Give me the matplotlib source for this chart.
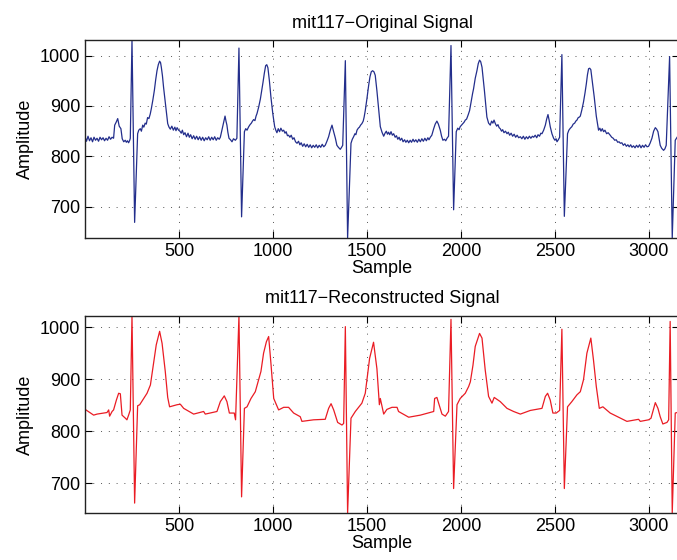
import numpy as np
import matplotlib
matplotlib.use("Agg")
import matplotlib.pyplot as plt

plt.rcParams['font.family'] = ['Liberation Sans', 'DejaVu Sans']
plt.rcParams['font.size'] = 13

# original signal, points (sample numbers)
orig_x = [1, 8, 16, 24, 32, 40, 48, 56, 64, 72, 80, 88, 96, 104, 112, 120, 128, 136, 144, 152,
          158, 166, 174, 182, 191, 198, 206, 214, 220, 226, 232, 238, 241,
          250, 264, 280,
          286, 294, 300, 307, 313, 320, 326, 333, 340, 347, 353, 361, 369, 376, 383, 390, 397,
          402, 406, 412, 418, 429, 440, 447, 454, 462, 470, 478, 484, 490, 498, 505, 512, 518,
          525, 532, 540, 548, 555, 562, 570, 578, 586, 594, 602, 610, 618, 626, 634, 642, 650,
          658, 666, 674, 682, 690, 698, 706, 714, 720,
          727, 734, 740, 745, 750, 755, 760, 766, 774, 782, 790, 800, 808,
          819, 833, 848,
          855, 862, 871, 878, 885, 891, 897, 904, 910, 915, 924, 933, 940, 947, 954, 961, 967,
          973, 981, 989, 999, 1009, 1015, 1021, 1028, 1035, 1042, 1050, 1057, 1064, 1070, 1077,
          1083, 1090, 1097, 1105, 1112, 1120, 1128, 1136, 1143, 1150, 1158, 1166, 1174, 1182,
          1190, 1198, 1206, 1214, 1222, 1230, 1238, 1246, 1254, 1262, 1270, 1278,
          1287, 1296, 1305, 1314, 1322, 1332, 1340, 1348, 1358, 1365, 1371,
          1385, 1397, 1415,
          1422, 1429, 1436, 1441, 1447, 1454, 1460, 1466, 1473, 1480, 1485, 1491, 1500, 1509,
          1516, 1523, 1530, 1537, 1544, 1553, 1562, 1571, 1580, 1589, 1596, 1603, 1609, 1615,
          1621, 1628, 1635, 1642, 1650, 1657, 1664, 1671, 1677, 1685, 1692, 1700, 1707, 1715,
          1722, 1730, 1737, 1745, 1752, 1760, 1768, 1776, 1784, 1792, 1800, 1808, 1816, 1824,
          1830, 1837, 1845,
          1855, 1863, 1872, 1880, 1890, 1897, 1904, 1912, 1919, 1926, 1934,
          1947, 1961, 1975,
          1983, 1990, 1996, 2003, 2010, 2017, 2023, 2030, 2038, 2046, 2055, 2062, 2067, 2076,
          2085, 2092, 2099, 2105, 2112, 2125, 2138, 2147, 2156, 2163, 2170, 2176, 2183, 2190,
          2197, 2203, 2209, 2216, 2222, 2229, 2237, 2245, 2252, 2259, 2267, 2275, 2283, 2291,
          2299, 2307, 2316, 2324, 2332, 2340, 2348, 2356, 2364, 2372, 2380, 2387, 2395, 2403,
          2410, 2418, 2425, 2431,
          2440, 2449, 2456, 2463, 2469, 2475, 2484, 2493, 2500, 2506, 2511, 2518, 2525,
          2537, 2550, 2567,
          2574, 2582, 2590, 2597, 2605, 2611, 2617, 2624, 2630, 2635, 2643, 2652, 2660, 2667,
          2673, 2679, 2685, 2691, 2700, 2709, 2720, 2732, 2739, 2745, 2752, 2759, 2766, 2775,
          2783, 2794, 2802, 2810, 2818, 2826, 2834, 2841, 2848, 2856, 2864, 2872, 2880, 2888,
          2895, 2903, 2910, 2918, 2926, 2934, 2942, 2950, 2958, 2966, 2974, 2982, 2990, 2998,
          3006,
          3016, 3025, 3034, 3041, 3048, 3054, 3060, 3068, 3078, 3085, 3092,
          3110, 3124, 3140, 3150]
# amplitudes matching orig_x
orig_y = [838, 830, 840, 831, 837, 829, 838, 832, 836, 830, 838, 833, 837, 831, 836, 832, 839, 834, 838, 836,
          862, 868, 875, 860, 855, 835, 829, 832, 828, 831, 827, 832, 836,
          1031, 669, 845,
          852, 855, 850, 862, 858, 866, 864, 877, 875, 884, 895, 912, 931, 952, 970, 982, 989,
          986, 977, 960, 937, 900, 865, 858, 854, 860, 852, 858, 851, 857, 852, 850, 846, 852,
          843, 847, 839, 846, 838, 843, 835, 841, 834, 840, 833, 839, 832, 838, 831, 837, 833,
          839, 832, 838, 833, 839, 832, 837, 834, 838,
          850, 862, 872, 880, 870, 862, 848, 836, 833, 829, 835, 832, 836,
          1015, 680, 849,
          855, 852, 859, 863, 866, 870, 873, 871, 880, 885, 898, 914, 930, 947, 965, 980, 982,
          976, 950, 918, 885, 859, 852, 847, 855, 849, 856, 850, 852, 846, 849, 841,
          842, 838, 842, 834, 837, 829, 826, 830, 823, 827, 820, 825, 819, 824,
          818, 823, 817, 822, 818, 823, 817, 822, 818, 824, 819, 822,
          830, 839, 852, 862, 850, 836, 822, 818, 814, 818, 822,
          990, 638, 826,
          834, 839, 845, 843, 852, 856, 858, 862, 865, 870, 878, 891, 915, 941,
          958, 968, 970, 968, 961, 930, 895, 859, 848, 840, 846, 850, 844, 848,
          843, 849, 842, 845, 838, 841, 834, 838, 832, 836, 829, 833, 828, 832,
          827, 832, 828, 834, 829, 833, 828, 834, 829, 835, 830, 836, 831, 837,
          833, 838, 842,
          855, 864, 870, 864, 852, 840, 832, 834, 831, 836, 840,
          1020, 694, 849,
          856, 853, 859, 862, 865, 868, 872, 874, 882, 891, 910, 925, 934, 955,
          970, 984, 991, 988, 977, 930, 878, 866, 862, 870, 866, 872, 865, 860,
          863, 857, 855, 850, 853, 847, 850, 845, 848, 842, 846, 840, 844, 838,
          842, 837, 839, 835, 840, 834, 839, 835, 840, 836, 840, 838, 842, 837,
          843, 840, 846, 845,
          852, 862, 874, 883, 872, 859, 845, 836, 832, 835, 829, 833, 838,
          1002, 681, 845,
          852, 856, 859, 864, 866, 870, 872, 877, 878, 880, 892, 908, 926, 944,
          962, 974, 975, 972, 945, 918, 880, 852, 856, 850, 855, 849, 852, 845,
          847, 842, 838, 836, 832, 833, 828, 829, 826, 827, 822, 825, 820, 823,
          819, 823, 818, 821, 817, 822, 818, 823, 817, 822, 818, 823, 819, 820,
          826,
          836, 850, 857, 854, 849, 835, 822, 816, 812, 815, 822,
          998, 638, 832, 838]

# reconstructed signal, points
rec_x = [1, 46, 64, 117, 126, 131, 144, 152,
         167, 179, 188, 197, 215, 223, 232, 241, 250, 264, 280, 291,
         312, 330, 348, 362, 379, 397, 410, 427, 440, 450, 490, 507, 525, 578, 631, 640, 702,
         720, 741, 755, 768, 794, 801, 819, 833, 848, 862, 883, 906, 936, 950, 965, 977, 989,
         1004, 1030, 1057, 1083, 1110, 1145, 1154, 1216, 1278,
         1296, 1309, 1323, 1344, 1367, 1376, 1385, 1397, 1415,
         1438, 1473, 1491, 1514, 1535, 1553, 1566,
         1571, 1589, 1606, 1633, 1660, 1668, 1722, 1784, 1846, 1855,
         1860, 1872, 1887, 1899, 1917, 1934, 1947, 1961, 1979, 1996, 2023, 2041, 2050,
         2064, 2076, 2099, 2112, 2129, 2147, 2165, 2177, 2209, 2245, 2280, 2316, 2369, 2431,
         2449, 2461, 2475, 2489, 2507, 2525, 2537, 2550, 2567, 2590, 2617, 2635, 2652,
         2670, 2691, 2705, 2720, 2736, 2755, 2794, 2883, 2945, 2954, 2998, 3011,
         3034, 3048, 3060, 3074, 3096, 3105, 3113, 3124, 3140, 3150]
rec_y = [842, 831, 833, 836, 841, 829, 838, 841,
         860, 873, 872, 831, 825, 822, 831, 841, 1022, 662, 849, 851,
         863, 873, 889, 924, 966, 992, 969, 915, 865, 847, 851, 852, 844, 833, 838, 833, 838,
         857, 868, 857, 835, 835, 822, 1022, 674, 844, 847, 863, 876, 915, 950, 972, 982, 931,
         863, 841, 846, 846, 835, 828, 819, 822, 823,
         844, 853, 841, 817, 812, 815, 1001, 643, 825,
         838, 854, 873, 940, 971, 920, 851,
         863, 833, 842, 846, 846, 838, 827, 831, 837, 838,
         863, 865, 847, 833, 829, 838, 1015, 690, 851, 863, 873, 886, 895,
         927, 963, 988, 979, 918, 867, 854, 865, 857, 844, 838, 833, 840, 844,
         867, 873, 860, 835, 835, 840, 996, 690, 847, 857, 870, 876, 899,
         950, 979, 937, 886, 844, 847, 835, 819, 823, 819, 822, 825,
         855, 844, 828, 814, 817, 822, 1011, 643, 835, 836]

fig = plt.figure(figsize=(6.77, 5.6), dpi=100)
ax1 = fig.add_axes([85/677, 1 - 238/560, 594/677, 198/560])
ax2 = fig.add_axes([85/677, 1 - 513/560, 594/677, 197.3/560])

panels = [(ax1, orig_x, orig_y, '#232e8c', 'mit117\u2212Original Signal', (638, 1031)),
          (ax2, rec_x, rec_y, '#ea1c24', 'mit117\u2212Reconstructed Signal', (643, 1022))]

for ax, xs, ys, col, title, ylim in panels:
    ax.plot(xs, ys, color=col, lw=0.9)
    ax.set_xlim(0, 3160)
    ax.set_ylim(*ylim)
    ax.set_xticks([500, 1000, 1500, 2000, 2500, 3000])
    ax.set_yticks([700, 800, 900, 1000])
    ax.grid(True, linestyle=(0, (1, 7)), color='#555555', lw=0.7)
    ax.tick_params(direction='in', top=True, right=True, length=5, width=0.8, labelsize=13)
    for s in ax.spines.values():
        s.set_linewidth(1.0)
        s.set_color('#222222')
    ax.set_title(title, fontsize=13, pad=9)
    ax.set_xlabel('Sample', fontsize=13, labelpad=0)
    ax.set_ylabel('Amplitude', fontsize=13, labelpad=4)

fig.savefig('out.png', dpi=100)
